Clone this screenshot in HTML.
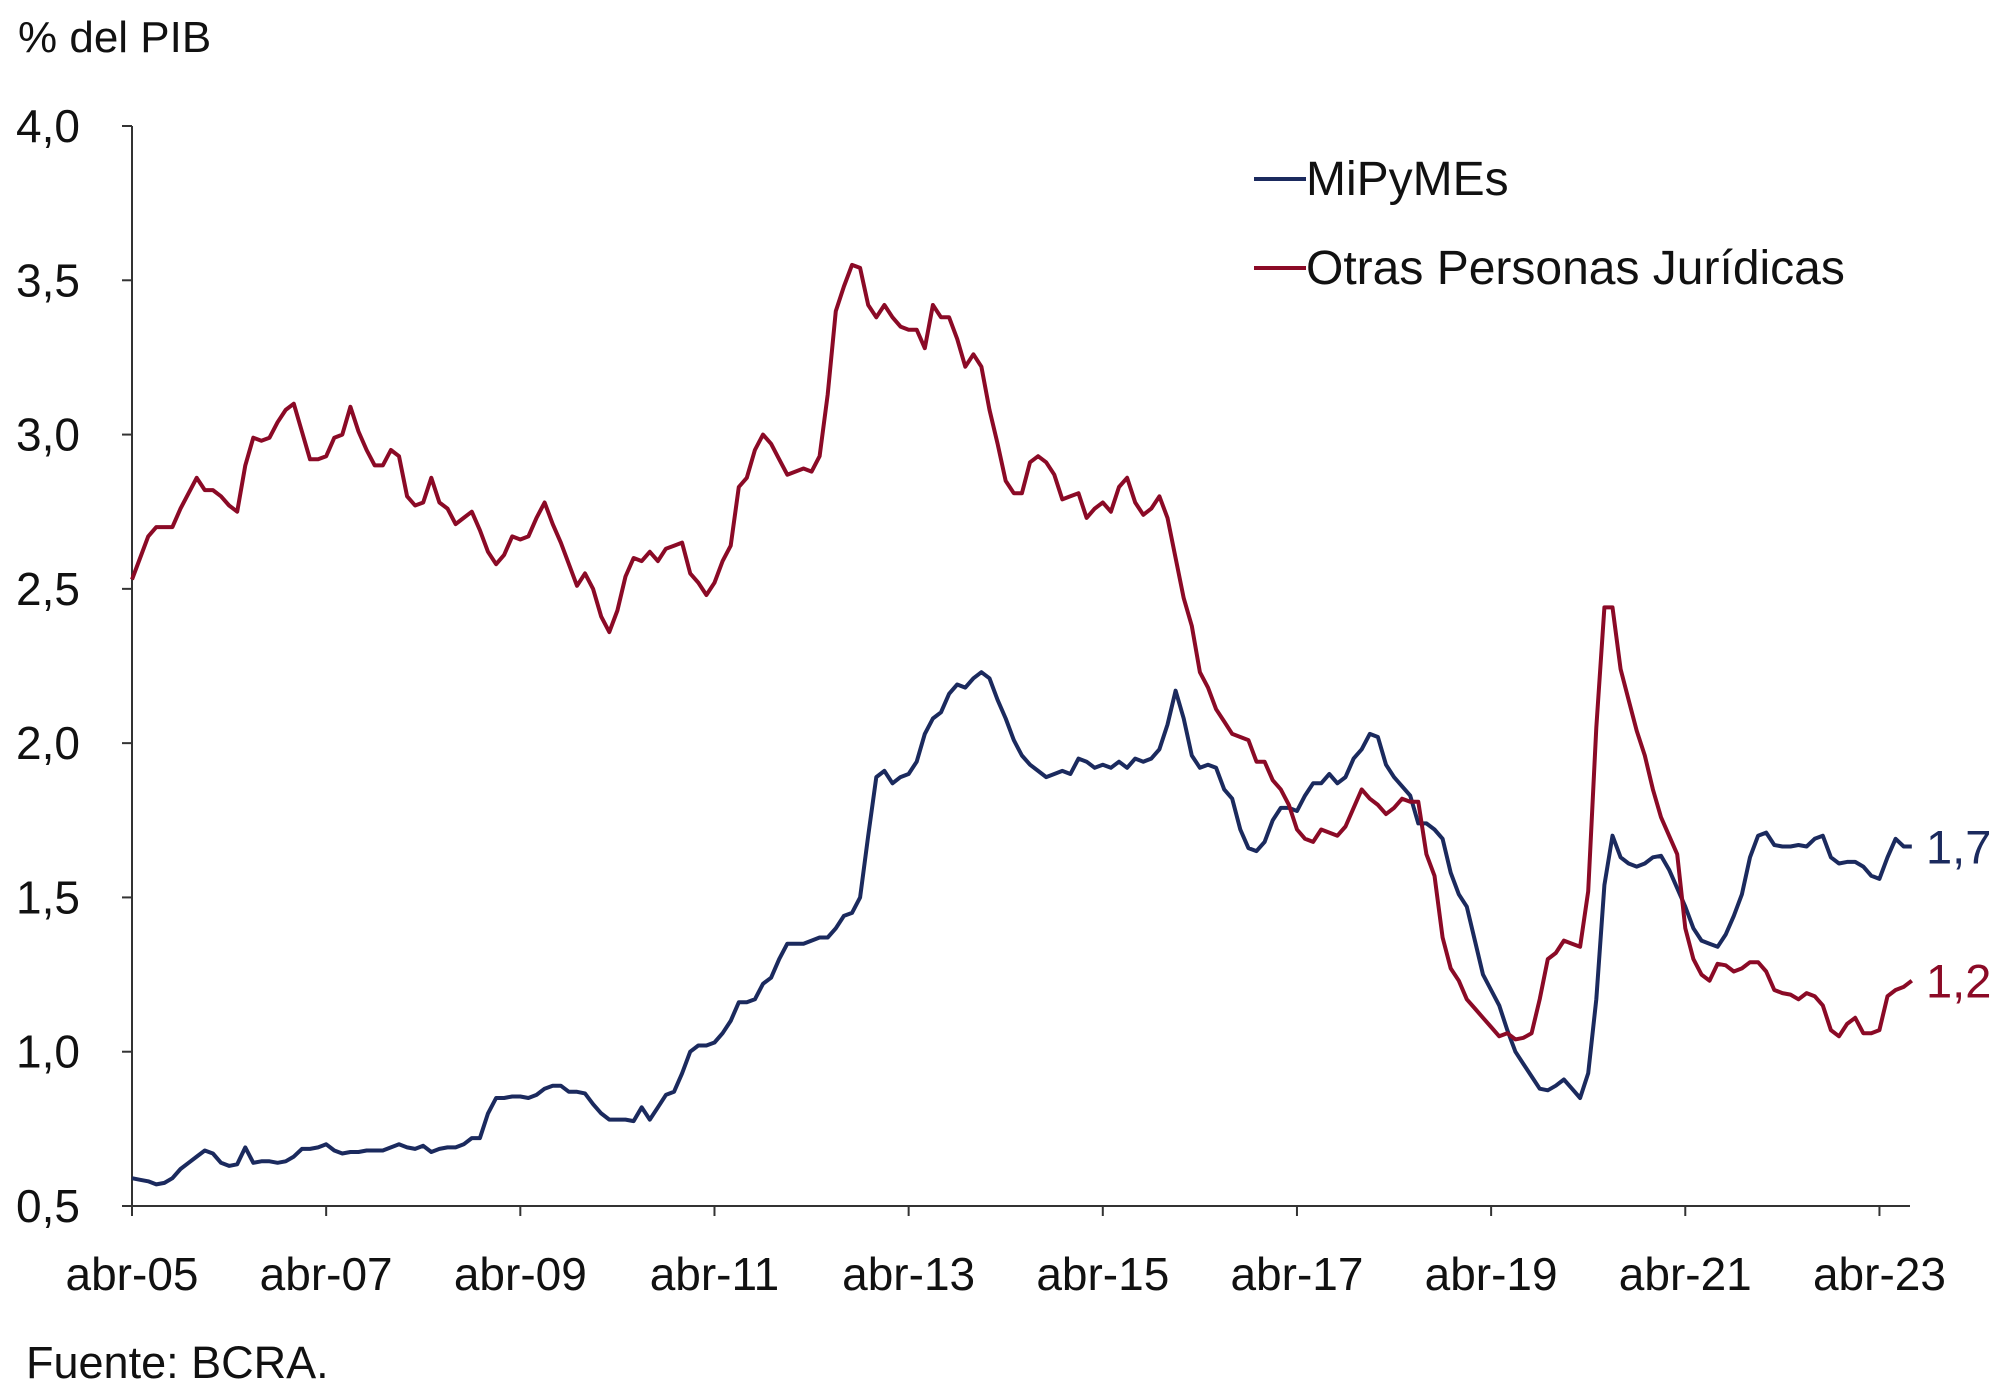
<!DOCTYPE html>
<html><head><meta charset="utf-8"><style>
html,body{margin:0;padding:0;background:#fff}
svg text{font-family:"Liberation Sans",Arial,sans-serif;fill:#111}
</style></head><body>
<svg id="chart" width="2000" height="1393" viewBox="0 0 2000 1393" xmlns="http://www.w3.org/2000/svg">
<text x="18" y="52" font-size="44">% del PIB</text>
<g id="axes"></g>
<g id="series"></g>
<g>
<line x1="1254" y1="179" x2="1306" y2="179" stroke="#1b2a5e" stroke-width="4"/>
<text x="1306" y="195" font-size="48">MiPyMEs</text>
<line x1="1254" y1="268" x2="1306" y2="268" stroke="#8b0a26" stroke-width="4"/>
<text x="1306" y="284" font-size="48">Otras Personas Jurídicas</text>
</g>
<text x="26" y="1378" font-size="45">Fuente: BCRA.</text>
</svg>
<script>
const xTickLabels=["abr-05","abr-07","abr-09","abr-11","abr-13","abr-15","abr-17","abr-19","abr-21","abr-23"];
const yTicks=[0.5,1.0,1.5,2.0,2.5,3.0,3.5,4.0];
const mipymes=[0.59,0.585,0.58,0.57,0.575,0.59,0.62,0.64,0.66,
0.68,0.67,0.64,0.63,0.635,0.69,0.64,0.645,0.645,0.64,0.645,0.66,
0.685,0.685,0.69,0.70,0.68,0.67,0.675,0.675,0.68,0.68,0.68,0.69,
0.70,0.69,0.685,0.695,0.675,0.685,0.69,0.69,0.70,0.72,0.72,0.80,
0.85,0.85,0.855,0.855,0.85,0.86,0.88,0.89,0.89,0.87,0.87,0.865,
0.83,0.80,0.78,0.78,0.78,0.775,0.82,0.78,0.82,0.86,0.87,0.93,
1.00,1.02,1.02,1.03,1.06,1.10,1.16,1.16,1.17,1.22,1.24,1.30,
1.35,1.35,1.35,1.36,1.37,1.37,1.40,1.44,1.45,1.50,1.70,1.89,
1.91,1.87,1.89,1.90,1.94,2.03,2.08,2.10,2.16,2.19,2.18,2.21,
2.23,2.21,2.14,2.08,2.01,1.96,1.93,1.91,1.89,1.90,1.91,1.90,
1.95,1.94,1.92,1.93,1.92,1.94,1.92,1.95,1.94,1.95,1.98,2.06,
2.17,2.08,1.96,1.92,1.93,1.92,1.85,1.82,1.72,1.66,1.65,1.68,
1.75,1.79,1.79,1.78,1.83,1.87,1.87,1.90,1.87,1.89,1.95,1.98,
2.03,2.02,1.93,1.89,1.86,1.83,1.74,1.74,1.72,1.69,1.58,1.51,
1.47,1.36,1.25,1.20,1.15,1.07,1.00,0.96,0.92,0.88,0.875,0.89,
0.91,0.88,0.85,0.93,1.17,1.54,1.70,1.63,1.61,1.60,1.61,1.63,
1.635,1.59,1.53,1.47,1.40,1.36,1.35,1.34,1.38,1.44,1.51,1.63,
1.70,1.71,1.67,1.665,1.665,1.67,1.665,1.69,1.70,1.63,1.61,1.615,
1.615,1.60,1.57,1.56,1.63,1.69,1.665,1.665];
const otras=[2.53,2.60,2.67,2.70,2.70,2.70,2.76,2.81,2.86,
2.82,2.82,2.80,2.77,2.75,2.90,2.99,2.98,2.99,3.04,3.08,3.10,
3.01,2.92,2.92,2.93,2.99,3.00,3.09,3.01,2.95,2.90,2.90,2.95,
2.93,2.80,2.77,2.78,2.86,2.78,2.76,2.71,2.73,2.75,2.69,2.62,
2.58,2.61,2.67,2.66,2.67,2.73,2.78,2.71,2.65,2.58,2.51,2.55,
2.50,2.41,2.36,2.43,2.54,2.60,2.59,2.62,2.59,2.63,2.64,2.65,
2.55,2.52,2.48,2.52,2.59,2.64,2.83,2.86,2.95,3.00,2.97,2.92,
2.87,2.88,2.89,2.88,2.93,3.13,3.40,3.48,3.55,3.54,3.42,3.38,
3.42,3.38,3.35,3.34,3.34,3.28,3.42,3.38,3.38,3.31,3.22,3.26,
3.22,3.08,2.97,2.85,2.81,2.81,2.91,2.93,2.91,2.87,2.79,2.80,
2.81,2.73,2.76,2.78,2.75,2.83,2.86,2.78,2.74,2.76,2.80,2.73,
2.60,2.47,2.38,2.23,2.18,2.11,2.07,2.03,2.02,2.01,1.94,1.94,
1.88,1.85,1.80,1.72,1.69,1.68,1.72,1.71,1.70,1.73,1.79,1.85,
1.82,1.80,1.77,1.79,1.82,1.81,1.81,1.64,1.57,1.37,1.27,1.23,
1.17,1.14,1.11,1.08,1.05,1.06,1.04,1.045,1.06,1.17,1.30,1.32,
1.36,1.35,1.34,1.52,2.05,2.44,2.44,2.24,2.14,2.04,1.96,1.85,
1.76,1.70,1.64,1.40,1.30,1.25,1.23,1.285,1.28,1.26,1.27,1.29,
1.29,1.26,1.20,1.19,1.185,1.17,1.19,1.18,1.15,1.07,1.05,1.09,
1.11,1.06,1.06,1.07,1.18,1.20,1.21,1.23];
const endLabels=["1,7","1,2"];

const NS="http://www.w3.org/2000/svg";
const X0=132,PX=8.09,Y0=1206,YMIN=0.5,YMAX=4.0,YTOP=126,XEND=1910;
const xs=i=>X0+i*PX;
const ys=v=>Y0-(v-YMIN)/(YMAX-YMIN)*(Y0-YTOP);
function mk(tag,attrs,parent){const e=document.createElementNS(NS,tag);for(const k in attrs)e.setAttribute(k,attrs[k]);parent.appendChild(e);return e;}
const axes=document.getElementById('axes');
const ya=mk('line',{x1:X0,y1:YTOP,x2:X0,y2:Y0,stroke:'#333','stroke-width':2},axes);


const xa=mk('line',{x1:X0,y1:Y0,x2:XEND,y2:Y0,stroke:'#333','stroke-width':2},axes);


yTicks.forEach(v=>{
  const t=mk('line',{x1:X0-10,y1:ys(v),x2:X0,y2:ys(v),stroke:'#333','stroke-width':2},axes);
  
  
  const l=mk('text',{x:80,y:ys(v)+16,'text-anchor':'end','font-size':46},axes);
  
  
  l.textContent=v.toFixed(1).replace('.',',');
});
xTickLabels.forEach((s,k)=>{
  const x=xs(k*24);
  const t=mk('line',{x1:x,y1:Y0,x2:x,y2:Y0+10,stroke:'#333','stroke-width':2},axes);
  
  
  const l=mk('text',{x:x,y:1290,'text-anchor':'middle','font-size':46},axes);
  
  
  l.textContent=s;
});
const ser=document.getElementById('series');
[[mipymes,'#1b2a5e','line-mipymes'],[otras,'#8b0a26','line-otras']].forEach(([d,c,n],j)=>{
  const p=mk('polyline',{points:d.map((v,i)=>xs(i).toFixed(1)+','+ys(v).toFixed(1)).join(' '),fill:'none',stroke:c,'stroke-width':4,'stroke-linejoin':'round'},ser);
  
  
  const last=d[d.length-1];
  const l=mk('text',{x:1926,y:ys(last)+17,'font-size':47,style:'fill:'+c},ser);
  
  
  l.textContent=endLabels[j];
});
</script>
</body></html>
